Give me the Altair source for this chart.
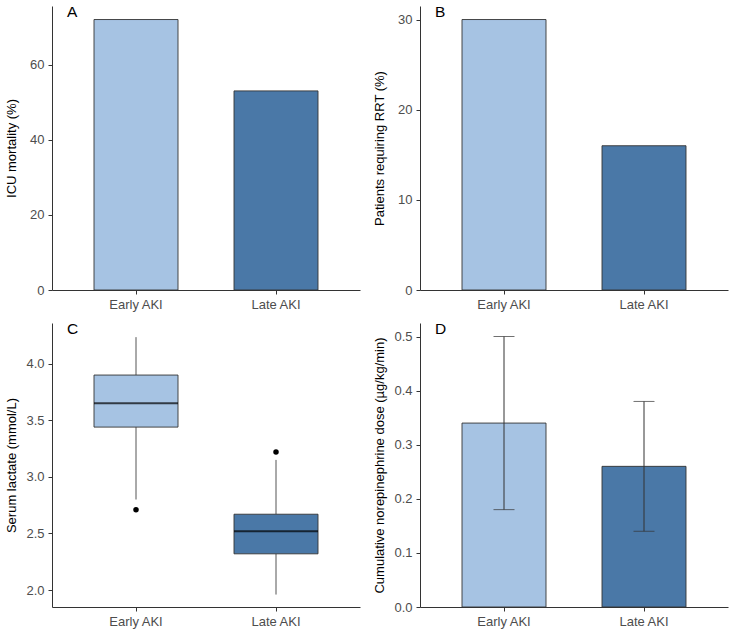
import altair as alt
import pandas as pd

# ---- data -------------------------------------------------------------
groups = ["Early AKI", "Late AKI"]

icu_mortality = [72, 53]          # %
rrt_required = [30, 16]           # %

# serum lactate (mmol/L) box summaries
lac_whisk_lo = [2.80, 1.96]
lac_q1 = [3.44, 2.32]
lac_median = [3.65, 2.52]
lac_q3 = [3.90, 2.67]
lac_whisk_hi = [4.235, 3.15]
lac_outlier_group = ["Early AKI", "Late AKI"]
lac_outlier_value = [2.71, 3.22]

# cumulative norepinephrine dose (µg/kg/min)
ne_mean = [0.34, 0.26]
ne_lo = [0.18, 0.14]
ne_hi = [0.50, 0.38]

# ---- styling ----------------------------------------------------------
W, H = 308, 284
BAND = W / 2.2 * 0.6
FILLS = ["#a6c3e3", "#4a78a7"]
OUTLINE = "#333333"
FONT = "Liberation Sans"

x_enc = alt.X(
    "group:N",
    sort=groups,
    scale=alt.Scale(paddingInner=0.4, paddingOuter=0.3),
    axis=alt.Axis(title=None, labelAngle=0),
)
color_enc = alt.Color(
    "group:N", scale=alt.Scale(domain=groups, range=FILLS), legend=None
)


def y_axis(title, fmt=None, values=None):
    kw = dict(title=title, titleX=-34, titleBaseline="bottom", titleAngle=270)
    if fmt:
        kw["format"] = fmt
    if values:
        kw["values"] = values
    return alt.Axis(**kw)


def tag(letter):
    return (
        alt.Chart(pd.DataFrame({"tag": [letter]}))
        .mark_text(align="left", baseline="top", fontSize=15.5, font=FONT, color="black")
        .encode(x=alt.value(15), y=alt.value(-1), text="tag:N")
    )


def bar_panel(values, title, domain, ticks, letter, fmt=None):
    df = pd.DataFrame({"group": groups, "value": values})
    bars = (
        alt.Chart(df)
        .mark_bar(stroke=OUTLINE, strokeWidth=0.9)
        .encode(
            x=x_enc,
            y=alt.Y(
                "value:Q",
                scale=alt.Scale(domain=domain, nice=False, zero=True),
                axis=y_axis(title, fmt, ticks),
            ),
            color=color_enc,
        )
    )
    return alt.layer(bars, tag(letter)).properties(width=W, height=H)


panel_a = bar_panel(icu_mortality, "ICU mortality (%)", [0, 75.6], [0, 20, 40, 60], "A")
panel_b = bar_panel(rrt_required, "Patients requiring RRT (%)", [0, 31.5], [0, 10, 20, 30], "B")

# ---- lactate box plot ----------------------------------------------------
box_df = pd.DataFrame(
    {
        "group": groups,
        "lo": lac_whisk_lo,
        "q1": lac_q1,
        "median": lac_median,
        "q3": lac_q3,
        "hi": lac_whisk_hi,
    }
)
out_df = pd.DataFrame({"group": lac_outlier_group, "value": lac_outlier_value})
lac_scale = alt.Scale(domain=[1.85, 4.36], nice=False, zero=False)
lac_y_axis = y_axis("Serum lactate (mmol/L)", ".1f", [2.0, 2.5, 3.0, 3.5, 4.0])

base_box = alt.Chart(box_df).encode(x=x_enc)
whisk_lo = base_box.mark_rule(color="#555555", strokeWidth=1).encode(
    y=alt.Y("lo:Q", scale=lac_scale, axis=lac_y_axis), y2="q1:Q"
)
whisk_hi = base_box.mark_rule(color="#555555", strokeWidth=1).encode(
    y=alt.Y("q3:Q", scale=lac_scale), y2="hi:Q"
)
box = base_box.mark_bar(stroke=OUTLINE, strokeWidth=0.9).encode(
    y=alt.Y("q1:Q", scale=lac_scale), y2="q3:Q", color=color_enc
)
median = base_box.mark_tick(color="black", thickness=2, size=BAND).encode(
    y=alt.Y("median:Q", scale=lac_scale)
)
outliers = (
    alt.Chart(out_df)
    .mark_circle(color="black", size=30, opacity=1)
    .encode(x=x_enc, y=alt.Y("value:Q", scale=lac_scale))
)
panel_c = alt.layer(whisk_lo, whisk_hi, box, median, outliers, tag("C")).properties(
    width=W, height=H
)

# ---- norepinephrine bars with error bars --------------------------------
ne_df = pd.DataFrame({"group": groups, "mean": ne_mean, "lo": ne_lo, "hi": ne_hi})
ne_scale = alt.Scale(domain=[0, 0.525], nice=False, zero=True)
ne_base = alt.Chart(ne_df).encode(x=x_enc)
ne_bars = ne_base.mark_bar(stroke=OUTLINE, strokeWidth=0.9).encode(
    y=alt.Y(
        "mean:Q",
        scale=ne_scale,
        axis=y_axis(
            "Cumulative norepinephrine dose (µg/kg/min)",
            ".1f",
            [0.0, 0.1, 0.2, 0.3, 0.4, 0.5],
        ),
    ),
    color=color_enc,
)
ne_err = ne_base.mark_rule(color="#333333", strokeWidth=1).encode(
    y=alt.Y("lo:Q", scale=ne_scale), y2="hi:Q"
)
ne_cap_lo = ne_base.mark_tick(color="#333333", thickness=1, size=21).encode(
    y=alt.Y("lo:Q", scale=ne_scale)
)
ne_cap_hi = ne_base.mark_tick(color="#333333", thickness=1, size=21).encode(
    y=alt.Y("hi:Q", scale=ne_scale)
)
panel_d = alt.layer(ne_bars, ne_err, ne_cap_lo, ne_cap_hi, tag("D")).properties(
    width=W, height=H
)

chart = (
    alt.concat(
        panel_a,
        panel_b,
        panel_c,
        panel_d,
        columns=2,
        spacing=alt.RowColnumber(row=33, column=60),
        bounds="flush",
    )
    .properties(padding={"left": 5, "top": 5, "right": 5, "bottom": 5})
    .configure(font=FONT)
    .configure_view(stroke=None)
    .configure_axis(
        grid=False,
        domainColor="#333333",
        domainWidth=1,
        tickColor="#333333",
        tickSize=4,
        labelColor="#4d4d4d",
        labelFontSize=13,
        labelPadding=4,
        titleColor="black",
        titleFontSize=13,
        titleFontWeight="normal",
    )
)

chart.save("out.html", embed_options={"renderer": "svg", "actions": False})
